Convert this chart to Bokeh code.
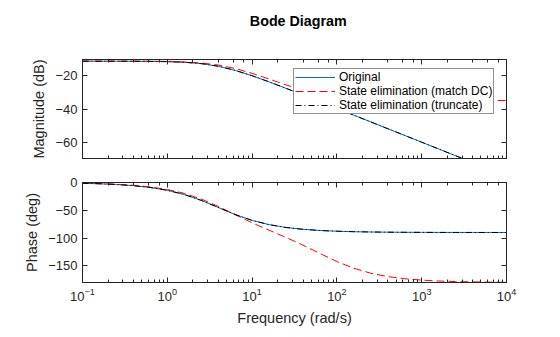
from bokeh.plotting import figure
from bokeh.layouts import column
from bokeh.models import LogAxis, LinearAxis, FixedTicker, Legend, LegendItem, Range1d, Label
from bokeh.embed import file_html
from bokeh.resources import INLINE

# ---- data ----
freq = [0.1, 0.1585, 0.2512, 0.3981, 0.631, 1.0, 1.585, 2.512, 3.981, 6.31,
        10.0, 15.85, 25.12, 39.81, 63.1, 100.0, 158.5, 251.2, 398.1, 631.0,
        1000.0, 1585.0, 2512.0, 3981.0, 6310.0, 10000.0]

mag_original = [-11.60, -11.61, -11.62, -11.64, -11.71, -11.86, -12.23, -13.04, -14.59, -17.03,
                -20.20, -23.83, -27.67, -31.60, -35.58, -39.57, -43.56, -47.56, -51.56, -55.56,
                -59.56, -63.56, -67.56, -71.56, -75.56, -79.56]
mag_matchdc = [-11.60, -11.60, -11.61, -11.63, -11.67, -11.78, -12.05, -12.65, -13.86, -15.92,
               -18.79, -22.14, -25.60, -28.82, -31.42, -33.16, -34.11, -34.55, -34.75, -34.83,
               -34.86, -34.87, -34.88, -34.88, -34.88, -34.88]
mag_truncate = [-11.60, -11.61, -11.62, -11.64, -11.71, -11.86, -12.23, -13.04, -14.59, -17.03,
                -20.20, -23.83, -27.67, -31.60, -35.58, -39.57, -43.56, -47.56, -51.56, -55.56,
                -59.56, -63.56, -67.56, -71.56, -75.56, -79.56]

phase_original = [-1.43, -2.27, -3.59, -5.68, -8.97, -14.04, -21.62, -32.13, -44.86, -57.63,
                  -68.20, -75.83, -80.95, -84.26, -86.37, -87.71, -88.55, -89.09, -89.42, -89.64,
                  -89.77, -89.86, -89.91, -89.94, -89.96, -89.98]
phase_matchdc = [-1.27, -2.02, -3.21, -5.07, -8.01, -12.59, -19.57, -29.69, -42.93, -57.89,
                 -72.49, -85.91, -98.92, -112.75, -127.68, -142.26, -154.44, -163.34, -169.34, -173.23,
                 -175.72, -177.30, -178.29, -178.92, -179.32, -179.57]
phase_truncate = [-1.43, -2.27, -3.59, -5.68, -8.97, -14.04, -21.62, -32.13, -44.86, -57.63,
                  -68.20, -75.83, -80.95, -84.26, -86.37, -87.71, -88.55, -89.09, -89.42, -89.64,
                  -89.77, -89.86, -89.91, -89.94, -89.96, -89.98]

series_names = ["Original", "State elimination (match DC)", "State elimination (truncate)"]
mag_ticks = [-60, -40, -20]
phase_ticks = [-150, -100, -50, 0]
chart_title = "Bode Diagram"

FONT = "Liberation Sans"
AXC = "#262626"
COLORS = ["#0072BD", "#FF0000", "#000000"]
DASHES = ["solid", "8 4", "6 3 1 3"]


def style_axis(ax, show_labels=True):
    ax.axis_line_color = AXC
    ax.major_tick_line_color = AXC
    ax.minor_tick_line_color = AXC
    ax.major_tick_in = 5
    ax.major_tick_out = 0
    ax.minor_tick_in = 3
    ax.minor_tick_out = 0
    ax.major_label_text_font = FONT
    ax.major_label_text_color = AXC
    ax.axis_label_text_font = FONT
    ax.axis_label_text_font_style = "normal"
    ax.axis_label_text_font_size = "14.5px"
    ax.axis_label_text_color = AXC
    if show_labels:
        ax.major_label_text_font_size = "13px"
        ax.major_label_standoff = 5
    else:
        ax.major_label_text_font_size = "0px"
        ax.major_label_text_alpha = 0
        ax.major_label_standoff = 0


def make_panel(yrange, yticks, ylabel, top, bottom, fh):
    p = figure(x_axis_type="log", x_range=Range1d(0.1, 1e4), y_range=Range1d(*yrange),
               frame_width=424, frame_height=fh,
               min_border_left=82, min_border_right=54,
               min_border_top=top, min_border_bottom=bottom,
               output_backend="svg", toolbar_location=None)
    p.xgrid.visible = False
    p.ygrid.visible = False
    p.outline_line_color = AXC
    p.background_fill_color = "white"
    p.border_fill_color = "white"
    p.yaxis.ticker = FixedTicker(ticks=yticks)
    p.yaxis.axis_label = ylabel
    for ax in p.yaxis:
        style_axis(ax)
        ax.minor_tick_line_color = None
    ax_r = LinearAxis(ticker=FixedTicker(ticks=yticks))
    style_axis(ax_r, show_labels=False)
    ax_r.minor_tick_line_color = None
    p.add_layout(ax_r, "right")
    ax_t = LogAxis()
    style_axis(ax_t, show_labels=False)
    p.add_layout(ax_t, "above")
    return p


# title strip (560 x 30)
p0 = figure(width=560, height=30, x_range=Range1d(0, 560), y_range=Range1d(0, 30),
            min_border=0, x_axis_location=None, y_axis_location=None,
            output_backend="svg", toolbar_location=None)
p0.xgrid.visible = False
p0.ygrid.visible = False
p0.outline_line_color = None
p0.background_fill_color = "white"
p0.border_fill_color = "white"
p0.add_layout(Label(x=285, y=10, text=chart_title, text_align="center", text_baseline="middle",
                    text_font=FONT, text_font_size="14.3px", text_font_style="bold",
                    text_color="#000000"))

p1 = make_panel((-69.2, -10.6), mag_ticks, "Magnitude (dB)", 29, 12, 99)
for ax in p1.below:
    style_axis(ax, show_labels=False)

p2 = make_panel((-180, 0), phase_ticks, "Phase (deg)", 12, 55, 100)
for ax in p2.below:
    style_axis(ax)
    ax.axis_label = "Frequency (rad/s)"
    ax.axis_label_standoff = 6

mags = [mag_original, mag_matchdc, mag_truncate]
phases = [phase_original, phase_matchdc, phase_truncate]
rends = []
for i in range(3):
    r = p1.line(freq, mags[i], line_color=COLORS[i], line_width=1, line_dash=DASHES[i])
    p2.line(freq, phases[i], line_color=COLORS[i], line_width=1, line_dash=DASHES[i])
    rends.append(r)

legend = Legend(items=[LegendItem(label=series_names[i], renderers=[rends[i]]) for i in range(3)],
                location=(211, 44), orientation="vertical",
                border_line_color=AXC, border_line_width=1,
                background_fill_color="white", background_fill_alpha=1.0,
                padding=1, spacing=0, margin=0,
                glyph_width=40, glyph_height=14, label_height=14, label_standoff=4,
                label_text_font=FONT, label_text_font_size="12px", label_text_color="#000000")
p1.add_layout(legend)

layout = column(p0, p1, p2, spacing=0)
open("out.html", "w").write(file_html(layout, INLINE))
